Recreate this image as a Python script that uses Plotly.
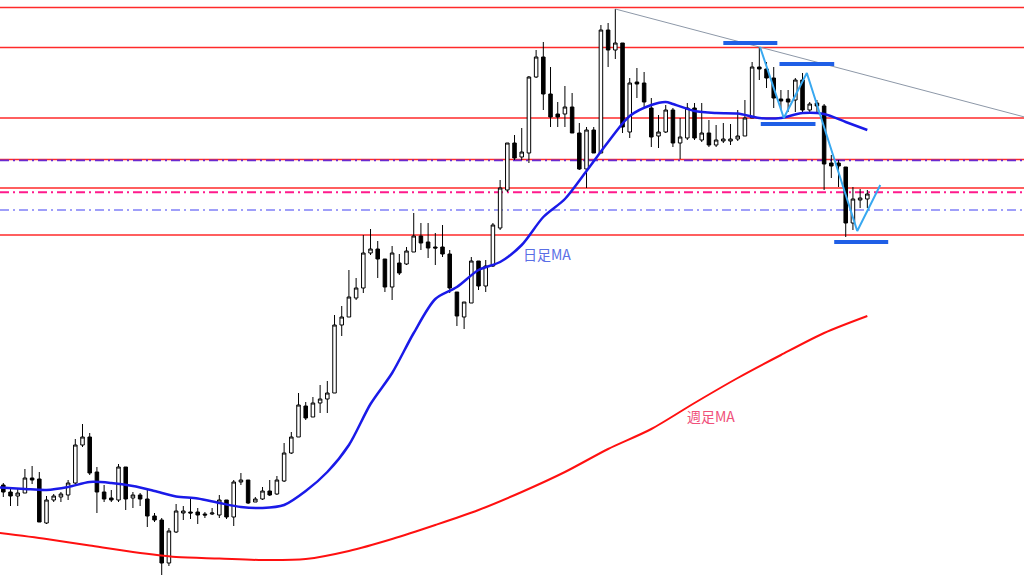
import plotly.graph_objects as go

# ---- daily candles (price index units) ----
opens = [91,84,80,83,98,97,53,76,79,81, 93,131,139,104,84,78,76,109,78,81,
         77,60,56,13,44,63,64,64,62,62, 61,76,59,94,96,74,77,85,82,95,
         123,139,170,159,173,177,183,251,259,278, 288,323,327,317,289,313,312,324,340,334,
         329,329,322,284,259,273,315,290,310,348, 386,433,419,423,499,519,482,462,462,469,
         443,407,446,423,546,526,533,444,494,493, 468,440,444,466,433,438,468,436,443,431,
         435,435,437,440,458,509,507,498,477,477, 476,496,466,473,470,413,413,409,353,376,
         377]
highs = [93,87,88,107,110,104,80,82,84,96, 137,152,143,109,91,86,112,109,84,83,
         86,63,58,48,72,70,77,68,64,68, 81,76,96,103,96,79,89,96,100,133,
         144,183,174,179,191,195,261,270,306,298, 341,347,335,317,330,322,329,363,353,353,
         343,351,326,284,274,319,315,316,353,396, 433,441,448,500,526,534,509,474,490,483,
         453,449,449,551,553,567,533,498,508,504, 478,461,471,468,458,473,473,473,456,451,
         453,452,466,476,514,529,514,509,486,486, 498,503,474,476,472,421,416,409,389,387,
         386]
lows = [79,70,70,83,92,54,52,74,74,76, 92,129,101,63,74,74,74,66,68,70,
        49,54,1,10,43,56,57,52,58,61, 58,57,50,91,72,74,76,80,81,94,
        122,139,156,159,163,163,183,240,259,276, 283,321,298,284,276,301,311,324,326,318,
        311,319,283,250,247,273,286,284,309,346, 384,416,416,413,498,466,449,449,449,443,
        406,388,423,423,509,517,443,438,478,469, 429,428,443,429,417,436,436,434,429,429,
        433,431,435,440,458,496,488,468,466,464, 464,464,463,463,386,398,389,339,346,368,
        368]
closes = [84,80,83,98,96,54,76,80,82,93, 131,139,103,84,77,76,109,77,81,77,
          60,56,13,45,65,65,63,61,61,63, 76,59,94,96,73,77,85,81,96,123,
          139,171,158,173,177,183,251,259,279,288, 323,327,317,289,323,303,325,340,333,328,
          328,322,288,260,274,315,290,310,351,388, 433,418,424,499,519,482,459,459,469,443,
          407,446,423,546,526,533,449,493,492,474, 439,444,466,433,439,468,438,443,431,436,
          437,437,440,458,509,507,498,478,475,474, 496,466,472,470,412,410,410,353,377,378,
          382]
bar_index = list(range(len(opens)))

# ---- moving averages ----
daily_ma_idx = [-0.5,3,6,9,12,15,18,21,24,27,30,33,36,39,42,45,48,51,54,57,60,63,66,69,72,75,
                78,81,84,87,90,92,93,96,99,102,105,108,111,114,117,120]
daily_ma_val = [88.5,87,86,89,94,93,90,85,79.5,77.5,73,69,68,71,85,104,131,172,203,243,277,289,
                306,314,331,359,377,405,434,460,471,474,472,465,463,462.5,458,458,463,462,454,446]
weekly_ma_idx = [-0.5,6,12,18,24,30,36,42,48,54,60,66,72,78,84,90,96,102,108,114,120]
weekly_ma_val = [43,37,30.5,24,19,17.5,16,17,25,37,51,66,84,104,127,147,173,198,221,243,260]

# ---- drawn objects ----
red_levels = [568.5, 528.5, 458, 416.5, 388, 341]
purple_level = 415.7
pink_level = 383.7
lavender_level = 366
trend_anchor_idx = [85, 105]
trend_anchor_val = [567, 529]
blue_bars = [(100, 107.5, 533), (107.8, 115.4, 512), (105.2, 112.8, 452), (115.4, 122.9, 334)]
zigzag_idx = [105.1, 108.4, 111.6, 118.6, 121.8]
zigzag_val = [529, 458, 503, 345, 391]

x_range = [-0.46, 141.76]
y_range = [0, 576]

fig = go.Figure()

fig.add_trace(go.Candlestick(
    x=bar_index, open=opens, high=highs, low=lows, close=closes,
    increasing=dict(line=dict(color="black", width=1), fillcolor="white"),
    decreasing=dict(line=dict(color="black", width=1), fillcolor="black"),
    whiskerwidth=0, showlegend=False, hoverinfo="skip"))

fig.add_trace(go.Scatter(x=weekly_ma_idx, y=weekly_ma_val, mode="lines",
                         line=dict(color="#ff1010", width=2, shape="spline", smoothing=0.8),
                         showlegend=False, hoverinfo="skip"))
fig.add_trace(go.Scatter(x=daily_ma_idx, y=daily_ma_val, mode="lines",
                         line=dict(color="#1a1ae8", width=2.5, shape="spline", smoothing=0.8),
                         showlegend=False, hoverinfo="skip"))

# trend line through two highs, extended to the right edge
slope = (trend_anchor_val[1] - trend_anchor_val[0]) / (trend_anchor_idx[1] - trend_anchor_idx[0])
trend_end_val = trend_anchor_val[0] + slope * (x_range[1] - trend_anchor_idx[0])
fig.add_trace(go.Scatter(x=[trend_anchor_idx[0], x_range[1]], y=[trend_anchor_val[0], trend_end_val],
                         mode="lines", line=dict(color="#8d98a8", width=1),
                         showlegend=False, hoverinfo="skip"))

fig.add_trace(go.Scatter(x=zigzag_idx, y=zigzag_val, mode="lines",
                         line=dict(color="#38a8f0", width=2),
                         showlegend=False, hoverinfo="skip"))

shapes = []
for lv in red_levels:
    shapes.append(dict(type="line", xref="x", x0=x_range[0], x1=x_range[1], yref="y", y0=lv, y1=lv,
                       line=dict(color="#ff2a2a", width=1.3), layer="below"))
dash = "9px,4px,2px,4px"
shapes.append(dict(type="line", xref="x", x0=x_range[0], x1=x_range[1], yref="y", y0=purple_level, y1=purple_level,
                   line=dict(color="#6a2ad0", width=1.8, dash=dash), layer="below"))
shapes.append(dict(type="line", xref="x", x0=x_range[0], x1=x_range[1], yref="y", y0=pink_level, y1=pink_level,
                   line=dict(color="#ff1a8c", width=2, dash=dash), layer="below"))
shapes.append(dict(type="line", xref="x", x0=x_range[0], x1=x_range[1], yref="y", y0=lavender_level, y1=lavender_level,
                   line=dict(color="#8080f8", width=1.6, dash=dash), layer="below"))
for x0, x1, lv in blue_bars:
    shapes.append(dict(type="line", xref="x", x0=x0, x1=x1, yref="y", y0=lv, y1=lv,
                       line=dict(color="#1f5fe6", width=4), layer="above"))

fig.update_layout(
    width=1024, height=576,
    margin=dict(l=0, r=0, t=0, b=0, autoexpand=False),
    paper_bgcolor="white", plot_bgcolor="white",
    showlegend=False,
    shapes=shapes,
    xaxis=dict(range=x_range, visible=False, rangeslider=dict(visible=False), fixedrange=True),
    yaxis=dict(range=y_range, visible=False, fixedrange=True),
    annotations=[
        dict(x=71.9, y=322, xref="x", yref="y", text="日足MA", showarrow=False,
             xanchor="left", yanchor="middle",
             font=dict(family="Noto Sans CJK JP", size=14, color="#5a6ee6")),
        dict(x=94.7, y=160, xref="x", yref="y", text="週足MA", showarrow=False,
             xanchor="left", yanchor="middle",
             font=dict(family="Noto Sans CJK JP", size=14, color="#f0507a")),
    ],
)

fig.write_html("out.html", config={"displayModeBar": False, "staticPlot": True},
               post_script="document.body.style.margin='0';document.body.style.padding='0';"
                           "document.documentElement.style.overflow='hidden';")
